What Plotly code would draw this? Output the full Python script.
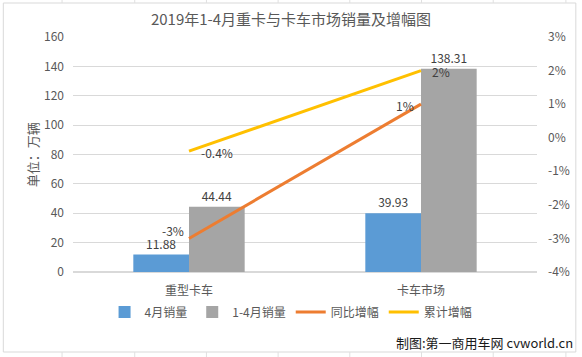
import plotly.graph_objects as go

categories = ["重型卡车", "卡车市场"]
april_sales = [11.88, 39.93]
jan_apr_sales = [44.44, 138.31]
yoy_growth = [-0.03, 0.01]
cum_growth = [-0.004, 0.02]
series_names = ["4月销量", "1-4月销量", "同比增幅", "累计增幅"]
pct_tick_vals = [-0.04, -0.03, -0.02, -0.01, 0, 0.01, 0.02, 0.03]
pct_tick_text = ["-4%", "-3%", "-2%", "-1%", "0%", "1%", "2%", "3%"]

FONT = "Noto Sans CJK SC"
TXT = "#595959"
LBL = "#404040"

def pct(v):
    return f"{v*100:g}%"

fig = go.Figure()
fig.add_trace(go.Bar(
    x=categories, y=april_sales, name=series_names[0],
    marker=dict(color="#5B9BD5", line=dict(width=0)),
    text=[f"{v:.2f}" for v in april_sales], textposition="outside",
    textfont=dict(size=12, color=LBL, family=FONT), cliponaxis=False,
))
fig.add_trace(go.Bar(
    x=categories, y=jan_apr_sales, name=series_names[1],
    marker=dict(color="#A5A5A5", line=dict(width=0)),
    text=[f"{v:.2f}" for v in jan_apr_sales], textposition="outside",
    textfont=dict(size=12, color=LBL, family=FONT), cliponaxis=False,
))
fig.add_trace(go.Scatter(
    x=categories, y=yoy_growth, name=series_names[2], yaxis="y2",
    mode="lines", line=dict(color="#ED7D31", width=3), cliponaxis=False,
))
fig.add_trace(go.Scatter(
    x=categories, y=cum_growth, name=series_names[3], yaxis="y2",
    mode="lines", line=dict(color="#FFC000", width=3), cliponaxis=False,
))

# line value labels, anchored at the data points
label_anns = []
yoy_offsets = [dict(xanchor="right", xshift=-3, yshift=8), dict(xanchor="right", xshift=-5, yshift=-1)]
cum_offsets = [dict(xanchor="left", xshift=10, yshift=-1), dict(xanchor="left", xshift=9, yshift=-1)]
for vals, offs in [(yoy_growth, yoy_offsets), (cum_growth, cum_offsets)]:
    for c, v, o in zip(categories, vals, offs):
        label_anns.append(dict(x=c, y=v, xref="x", yref="y2", text=pct(v), showarrow=False,
                               yanchor="middle", font=dict(size=12, color=LBL, family=FONT), **o))

W, H = 582, 357
L, R, T, B = 73, 539, 37, 272
pw, ph = R - L, B - T

def px(x):
    return (x - L) / pw

def py(y):
    return (B - y) / ph

shapes = [dict(type="rect", xref="paper", yref="paper",
               x0=px(3), x1=px(578), y0=py(352), y1=py(3),
               line=dict(color="#d9d9d9", width=1), layer="below")]
for gx in [62, 135, 207, 279, 351, 423, 495, 568]:
    shapes.append(dict(type="line", xref="paper", yref="paper",
                       x0=px(gx), x1=px(gx), y0=py(0), y1=py(3),
                       line=dict(color="#e0e0e0", width=1)))
    shapes.append(dict(type="line", xref="paper", yref="paper",
                       x0=px(gx), x1=px(gx), y0=py(352), y1=py(357),
                       line=dict(color="#e0e0e0", width=1)))

fig.update_layout(
    width=W, height=H,
    margin=dict(l=L, r=W - R, t=T, b=H - B, pad=0),
    paper_bgcolor="white", plot_bgcolor="white",
    font=dict(family=FONT, size=12, color=TXT),
    title=dict(text="2019年1-4月重卡与卡车市场销量及增幅图", x=0.5, xanchor="center",
               y=1 - 20 / H, yanchor="middle", font=dict(size=15, color=TXT)),
    barmode="group", bargap=0.52, bargroupgap=0,
    xaxis=dict(showgrid=False, showline=False, ticks="", ticklabelstandoff=10,
               tickfont=dict(size=12, color=TXT)),
    yaxis=dict(range=[0, 160], dtick=20, showgrid=True, gridcolor="#d9d9d9", gridwidth=1,
               zeroline=True, zerolinecolor="#d9d9d9", showline=False, ticks="",
               ticklabelstandoff=8, tickfont=dict(size=12, color=TXT)),
    yaxis2=dict(range=[-0.04, 0.03], tickmode="array", tickvals=pct_tick_vals,
                ticktext=pct_tick_text, overlaying="y", side="right",
                showgrid=False, zeroline=False, showline=False, ticks="",
                ticklabelstandoff=10, tickfont=dict(size=12, color=TXT)),
    legend=dict(orientation="h", x=px(292), xanchor="center", y=py(312), yanchor="middle",
                font=dict(size=12, color=TXT), itemwidth=30, traceorder="normal"),
    shapes=shapes,
    annotations=label_anns + [
        dict(text="单位：万辆", xref="paper", yref="paper", x=px(32), y=py(155),
             textangle=-90, showarrow=False, font=dict(size=13, color=TXT),
             xanchor="center", yanchor="middle"),
        dict(text="制图:第一商用车网 cvworld.cn", xref="paper", yref="paper",
             x=px(577), y=py(342), xanchor="right", yanchor="middle", showarrow=False,
             font=dict(size=13, color="#1a1a1a")),
    ],
)

fig.write_html("out.html", config={"displayModeBar": False},
               post_script="document.body.style.margin='0';document.body.style.overflow='hidden';")
